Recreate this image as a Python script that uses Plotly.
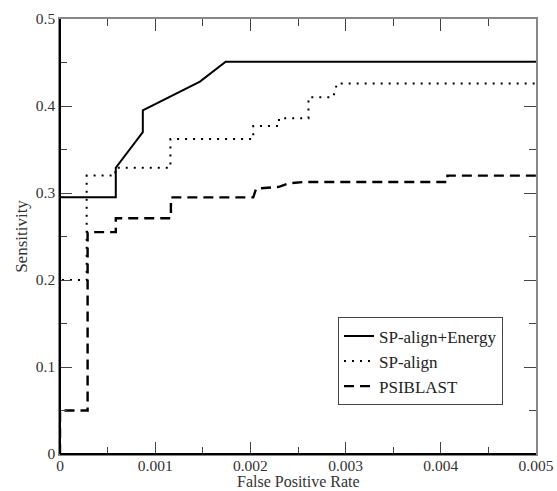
import plotly.graph_objects as go

# ROC curve vertices (false positive rate, sensitivity)
energy_fpr = [0, 0, 0.000586, 0.000586, 0.00087, 0.00087, 0.00147, 0.00174, 0.005]
energy_sens = [0, 0.295, 0.295, 0.329, 0.370, 0.395, 0.428, 0.451, 0.451]

align_fpr = [0, 0, 0.00028, 0.00028, 0.00058, 0.00058, 0.00116, 0.00116, 0.00203,
             0.00203, 0.0023, 0.0023, 0.00261, 0.00261, 0.00287, 0.00291, 0.005]
align_sens = [0, 0.2, 0.2, 0.32, 0.32, 0.329, 0.329, 0.362, 0.362,
              0.377, 0.377, 0.386, 0.386, 0.41, 0.41, 0.426, 0.426]

psi_fpr = [0, 0, 0.00029, 0.00029, 0.000586, 0.000586, 0.001165, 0.001165, 0.00203,
           0.00206, 0.0023, 0.0024, 0.00255, 0.00407, 0.00407, 0.005]
psi_sens = [0, 0.05, 0.05, 0.255, 0.255, 0.271, 0.271, 0.295, 0.295,
            0.305, 0.307, 0.311, 0.3126, 0.3126, 0.320, 0.320]

x_ticks = [0, 0.001, 0.002, 0.003, 0.004, 0.005]
x_labels = ["0", "0.001", "0.002", "0.003", "0.004", "0.005"]
y_ticks = [0, 0.1, 0.2, 0.3, 0.4, 0.5]
y_labels = ["0", "0.1", "0.2", "0.3", "0.4", "0.5"]

FONT = "'Liberation Serif', 'Times New Roman', 'DejaVu Serif', serif"
TEXT = "#333333"

fig = go.Figure()
fig.add_trace(go.Scatter(x=energy_fpr, y=energy_sens, mode="lines", name="SP-align+Energy",
                         line=dict(color="black", width=2)))
fig.add_trace(go.Scatter(x=align_fpr, y=align_sens, mode="lines", name="SP-align",
                         line=dict(color="black", width=2, dash="2px,6px")))
fig.add_trace(go.Scatter(x=psi_fpr, y=psi_sens, mode="lines", name="PSIBLAST",
                         line=dict(color="black", width=2.4, dash="10px,6px")))

axis_common = dict(
    showgrid=False, zeroline=False, showline=True, linecolor="#888888", linewidth=1.5,
    mirror="allticks", ticks="inside", ticklen=12, tickwidth=1.2, tickcolor="#444444",
    tickfont=dict(family=FONT, size=15.5, color=TEXT), automargin=False,
)

fig.update_xaxes(range=[0, 0.005], tickvals=x_ticks, ticktext=x_labels, ticklabelstandoff=-3,
                 minor=dict(dtick=0.0005, ticks="inside", ticklen=7, tickcolor="#444444", tickwidth=1.2),
                 **axis_common)
fig.update_yaxes(range=[0, 0.5], tickvals=y_ticks, ticktext=y_labels,
                 minor=dict(dtick=0.05, ticks="inside", ticklen=7, tickcolor="#444444", tickwidth=1.2),
                 title=dict(text="Sensitivity", font=dict(family=FONT, size=17, color=TEXT),
                            standoff=4),
                 **axis_common)

# x-axis title placed below the tick labels
fig.add_annotation(text="False Positive Rate", xref="paper", yref="paper",
                   x=0.5, y=-0.0851, xanchor="center", yanchor="bottom", showarrow=False,
                   borderpad=0, font=dict(family=FONT, size=16, color=TEXT))

# darker left and bottom axis lines
fig.add_shape(type="line", xref="x domain", yref="y domain", x0=0, x1=0, y0=0, y1=1,
              line=dict(color="black", width=2), layer="above")
fig.add_shape(type="line", xref="x domain", yref="y domain", x0=0, x1=1, y0=0, y1=0,
              line=dict(color="black", width=2), layer="above")

fig.update_layout(
    width=557, height=491,
    margin=dict(l=60, r=21, t=19, b=37, autoexpand=False),
    paper_bgcolor="white", plot_bgcolor="white",
    font=dict(family=FONT, color=TEXT),
    showlegend=True,
    legend=dict(x=0.584, y=0.213, xanchor="left", yanchor="middle",
                bgcolor="white", bordercolor="#444444", borderwidth=1,
                font=dict(family=FONT, size=17, color="#222222"),
                itemwidth=30, tracegroupgap=0),
)

fig.write_html("out.html")
